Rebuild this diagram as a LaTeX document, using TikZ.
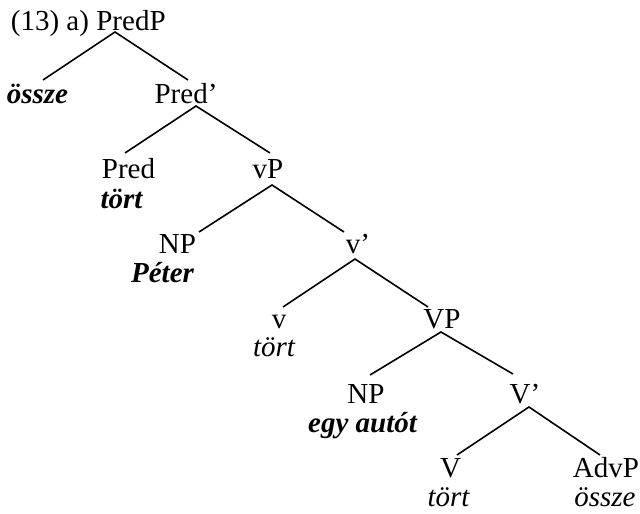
\documentclass[tikz,border=0pt]{standalone}
\usepackage{fontspec}
\setmainfont{Liberation Serif}
\usetikzlibrary{calc}
\begin{document}
\begin{tikzpicture}[x=1pt,y=-1pt,
  lab/.style={anchor=base,inner sep=0pt,font=\fontsize{29}{32}\selectfont},
  wbi/.style={lab,font=\fontsize{29}{32}\selectfont\bfseries\itshape},
  wi/.style={lab,font=\fontsize{29}{32}\selectfont\itshape},
  br/.style={line width=1.6pt}]
\useasboundingbox (0,0) rectangle (640,514);
% nodes
\node[lab] (predp) at (131,30) {PredP};
\node[lab,anchor=base east] (ex) at ([xshift=-7pt]predp.base west) {(13) a)};
\node[wbi] (osszeb) at (37.5,103) {össze};
\node[lab] (predbar) at (186,103) {Pred’};
\node[lab] (pred) at (128.5,178) {Pred};
\node[wbi] (tortb) at (121.5,208) {tört};
\node[lab] (vp) at (268,178) {vP};
\node[lab] (np1) at (177.5,253) {NP};
\node[wbi] (peter) at (162.5,282) {Péter};
\node[lab] (vbar) at (358,253) {v’};
\node[lab] (v) at (279,328) {v};
\node[wi] (tort1) at (274,356) {tört};
\node[lab] (vp2) at (442,328) {VP};
\node[lab] (np2) at (366,403) {NP};
\node[wbi] (egy) at (362.5,432) {egy autót};
\node[lab] (vbar2) at (525,403) {V’};
\node[lab] (vv) at (450.5,477) {V};
\node[wi] (tort2) at (448.5,506) {tört};
\node[lab] (advp) at (606,477) {AdvP};
\node[wi] (osszei) at (605,506) {össze};
% branches
\draw[br] ($(osszeb.base)+(5.5,-23)$) -- ($(predp.base)+(-16,2)$) -- ($(predbar.base)+(2,-23)$);
\draw[br] ($(pred.base)+(-3.5,-25)$) -- ($(predbar.base)+(10,3)$) -- ($(vp.base)+(2,-25)$);
\draw[br] ($(np1.base)+(21.5,-21)$) -- ($(vp.base)+(4,7)$) -- ($(vbar.base)+(-14,-21)$);
\draw[br] ($(v.base)+(4,-21)$) -- ($(vbar.base)+(-3,6)$) -- ($(vp2.base)+(-14,-21)$);
\draw[br] ($(np2.base)+(4,-28)$) -- ($(vp2.base)+(-1,4)$) -- ($(vbar2.base)+(-12,-29)$);
\draw[br] ($(vv.base)+(6.5,-22)$) -- ($(vbar2.base)+(4,4)$) -- ($(advp.base)+(-6,-22)$);
\end{tikzpicture}
\end{document}
